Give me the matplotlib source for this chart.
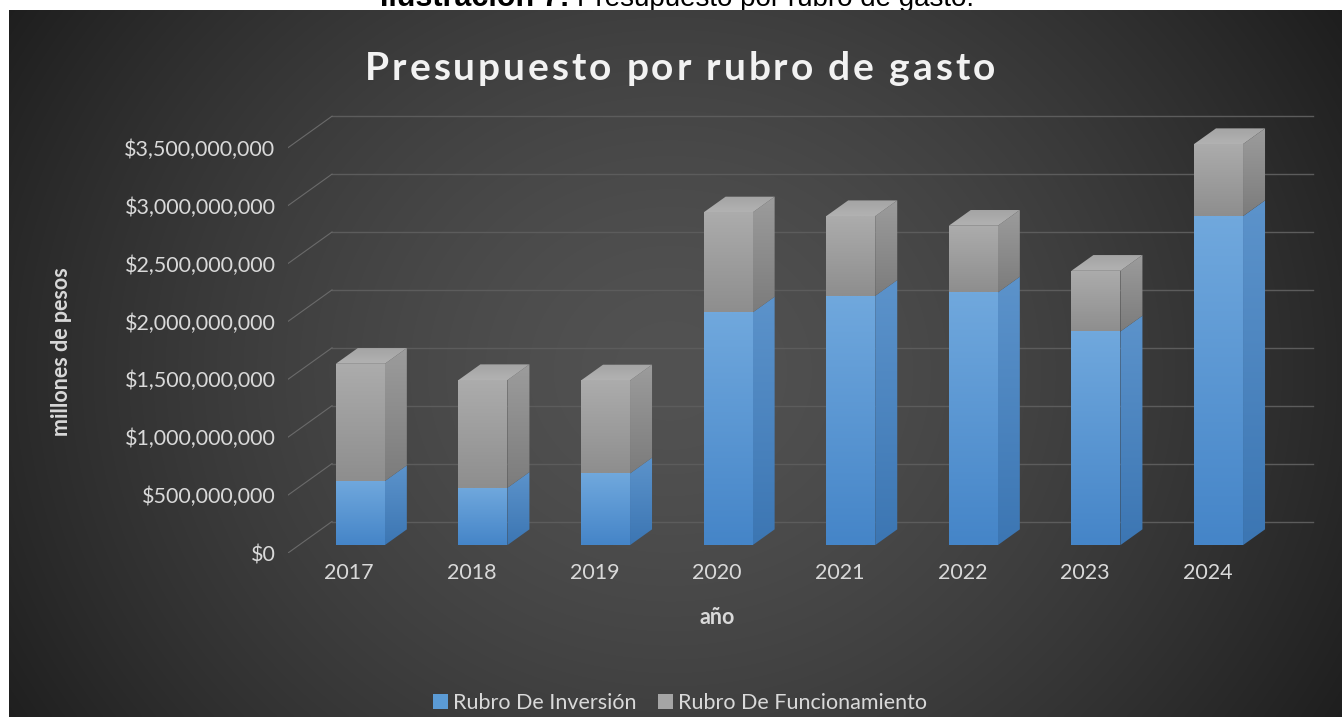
import numpy as np
import matplotlib.pyplot as plt
from matplotlib.patches import Polygon, Patch
from matplotlib.colors import to_rgb

# Data (pesos)
years = ['2017', '2018', '2019', '2020', '2021', '2022', '2023', '2024']
inversion = np.array([553, 495, 619, 2009, 2153, 2182, 1845, 2841]) * 1e6
funcionamiento = np.array([1013, 930, 803, 864, 688, 576, 524, 622]) * 1e6
y_ticks = np.arange(0, 3.5e9 + 1, 5e8)
y_labels = [f'${v:,.0f}' for v in y_ticks]
title = 'Presupuesto por rubro de gasto'

W, H = 1342, 717
fig = plt.figure(figsize=(W / 100, H / 100), dpi=100)
fig.patch.set_facecolor('white')

# caption above the chart (cut by the chart panel, as in the source document)
fig.text(570 / W, 1 - 6 / H, 'Ilustración 7:', ha='right', va='baseline',
         family='Liberation Sans', weight='bold', size=22, color='black', zorder=-5)
fig.text(577 / W, 1 - 6 / H, 'Presupuesto por rubro de gasto.', ha='left', va='baseline',
         family='Liberation Sans', size=20, color='black', zorder=-5)

# dark panel with radial gradient
bg = fig.add_axes([9 / W, 0, 1 - 9 / W, (H - 10) / H])
bg.set_zorder(-1)
gx, gy = np.meshgrid(np.arange(9, W, 3), np.arange(10, H, 3))
r = np.hypot((gx - 670) / 700, (gy - 370) / 620)
shade = 0x52 - 44 * np.clip(r, 0, 1.2) ** 1.5
img = np.dstack([shade, shade, shade]) / 255
bg.imshow(img, aspect='auto', interpolation='bilinear')
bg.axis('off')

# 3D-ish plot area
DX, DY = 0.359, 2.72e8      # full depth offset in data units
BW = 0.40                   # bar width
D0, D1 = 0.25, 0.75         # bar depth span

ax = fig.add_axes([288 / W, (H - 553) / H, (1320 - 288) / W, (553 - 100) / H])
ax.patch.set_alpha(0)


def face(verts, top, bot, z=3):
    poly = Polygon(verts, closed=True, facecolor='none', edgecolor='none')
    ax.add_patch(poly)
    xs = [p[0] for p in verts]
    ys = [p[1] for p in verts]
    t = np.linspace(0, 1, 64)[:, None]
    c = (1 - t) * np.array(to_rgb(top)) + t * np.array(to_rgb(bot))
    im = ax.imshow(c[:, None, :], extent=(min(xs), max(xs), min(ys), max(ys)),
                   origin='upper', aspect='auto', interpolation='bilinear', zorder=z)
    im.set_clip_path(poly)


def block(i, y0, y1, front, side, top=None):
    x0 = i - BW / 2 + D0 * DX
    x1 = x0 + BW
    b0, b1 = y0 + D0 * DY, y1 + D0 * DY
    sx, sy = (D1 - D0) * DX, (D1 - D0) * DY
    face([(x0, b0), (x1, b0), (x1, b1), (x0, b1)], *front)
    face([(x1, b0), (x1 + sx, b0 + sy), (x1 + sx, b1 + sy), (x1, b1)], *side)
    if top:
        face([(x0, b1), (x1, b1), (x1 + sx, b1 + sy), (x0 + sx, b1 + sy)], *top)


# walls: back gridlines and left-wall diagonals
for v in y_ticks:
    ax.plot([-0.5 + DX, 7.5 + DX], [v + DY, v + DY], color='#5c5c5c', lw=1, zorder=1)
    ax.plot([-0.5, -0.5 + DX], [v, v + DY], color='#6a6a6a', lw=0.8, zorder=1)

for i in range(len(years)):
    inv, fun = inversion[i], funcionamiento[i]
    block(i, 0, inv, ('#70a8dd', '#4585c8'), ('#5c93cb', '#3c76b3'))
    block(i, inv, inv + fun, ('#acacac', '#8e8e8e'), ('#9c9c9c', '#7c7c7c'),
          ('#a4a4a4', '#b2b2b2'))

ax.set_xlim(-0.5, -0.5 + (1320 - 288) / 122.6)
ax.set_ylim(0, (553 - 100) / 0.1158 * 1e6)
ax.set_xticks(range(len(years)), years)
ax.set_yticks(y_ticks, y_labels)
ax.tick_params(length=0, colors='#d9d9d9', labelsize=15.5)
ax.tick_params(axis='x', pad=7)
ax.tick_params(axis='y', pad=9)
for lab in ax.get_xticklabels() + ax.get_yticklabels():
    lab.set_family('Lato')
for s in ax.spines.values():
    s.set_visible(False)

# letter-spaced title, placed character by character
renderer = fig.canvas.get_renderer()
spacing = 2.9
widths = []
for ch in title:
    if ch == ' ':
        widths.append(None)
        continue
    t = fig.text(0, 0, ch, family='Lato', weight='bold', size=28)
    widths.append(t.get_window_extent(renderer).width)
    t.remove()
t1 = fig.text(0, 0, 'a b', family='Lato', weight='bold', size=28)
t2 = fig.text(0, 0, 'ab', family='Lato', weight='bold', size=28)
sw = t1.get_window_extent(renderer).width - t2.get_window_extent(renderer).width
t1.remove()
t2.remove()
widths = [w if w is not None else sw for w in widths]
total = sum(widths) + spacing * (len(title) - 1)
x = 680 - total / 2
for ch, w in zip(title, widths):
    if ch != ' ':
        fig.text(x / W, 1 - 80 / H, ch, ha='left', va='baseline',
                 family='Lato', weight='bold', size=28, color='#f2f2f2')
    x += w + spacing

fig.text(62 / W, 1 - 352 / H, 'millones de pesos', rotation=90, ha='center', va='center',
         family='Lato', weight='bold', size=15.5, color='#d9d9d9')
fig.text(717 / W, 1 - 617 / H, 'año', ha='center', va='center',
         family='Lato', weight='bold', size=15.5, color='#d9d9d9')

handles = [Patch(facecolor='#5b9bd5', label='Rubro De Inversión'),
           Patch(facecolor='#a5a5a5', label='Rubro De Funcionamiento')]
fig.legend(handles=handles, loc='center', bbox_to_anchor=(680 / W, 1 - 703 / H), ncol=2,
           frameon=False, handlelength=0.7, handleheight=0.7, handletextpad=0.25,
           columnspacing=1.0, labelcolor='#d9d9d9', prop={'family': 'Lato', 'size': 15.5})

fig.savefig('out.png', dpi=100, facecolor='white')
